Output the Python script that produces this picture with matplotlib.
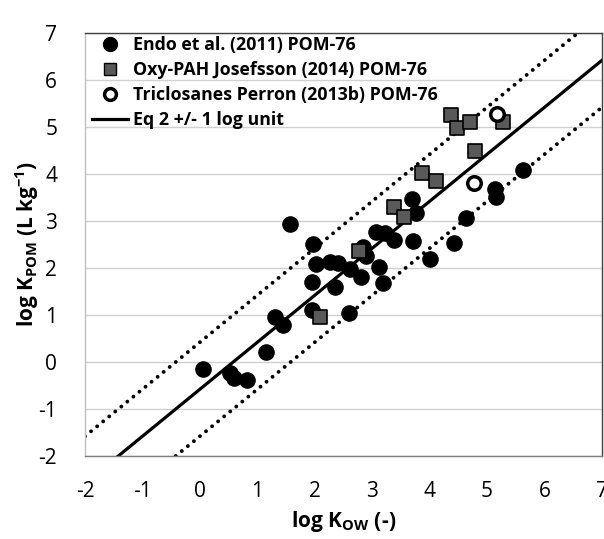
import numpy as np
import matplotlib
matplotlib.use("Agg")
import matplotlib.pyplot as plt
from matplotlib.lines import Line2D

plt.rcParams['font.family'] = ['Open Sans', 'DejaVu Sans']
plt.rcParams['mathtext.fontset'] = 'custom'
plt.rcParams['mathtext.rm'] = 'Open Sans'
plt.rcParams['mathtext.bf'] = 'Open Sans:bold'
plt.rcParams['axes.unicode_minus'] = False

# Endo et al. (2011) POM-76
endo_x = [0.05, 0.53, 0.60, 0.82, 1.15, 1.31, 1.45, 1.95, 1.57, 1.97, 2.02, 2.27,
          2.41, 1.95, 2.36, 2.62, 2.81, 2.84, 2.90, 3.07, 3.23, 3.38, 3.12, 3.19,
          2.60, 3.71, 4.00, 3.77, 3.70, 4.43, 4.64, 5.13, 5.16, 5.63]
endo_y = [-0.15, -0.23, -0.34, -0.38, 0.21, 0.96, 0.79, 1.10, 2.94, 2.51, 2.09, 2.13,
          2.11, 1.70, 1.60, 1.98, 1.81, 2.45, 2.26, 2.77, 2.74, 2.60, 2.02, 1.68,
          1.04, 2.57, 2.19, 3.17, 3.47, 2.53, 3.06, 3.68, 3.51, 4.09]

# Oxy-PAH Josefsson (2014) POM-76
oxy_x = [2.09, 2.77, 3.38, 3.56, 3.87, 4.11, 4.79, 4.38, 4.48, 4.71, 5.28]
oxy_y = [0.96, 2.36, 3.30, 3.09, 4.02, 3.85, 4.49, 5.26, 4.98, 5.10, 5.10]

# Triclosanes Perron (2013b) POM-76
tri_x = [4.78, 5.18]
tri_y = [3.81, 5.28]

# Eq 2 (slope, intercept) and +/- 1 log unit
eq_slope = 1.0
eq_intercept = -0.58
eq_band = 1.0

x_ticks = [-2, -1, 0, 1, 2, 3, 4, 5, 6, 7]
y_ticks = [-2, -1, 0, 1, 2, 3, 4, 5, 6, 7]

fig = plt.figure(figsize=(6.04, 5.39), dpi=100)
ax = fig.add_axes([85/604, 1-456/539, (602-85)/604, (456-33)/539])

ax.set_xlim(-2, 7)
ax.set_ylim(-2, 7)
ax.set_xticks(x_ticks)
ax.set_yticks(y_ticks)
ax.grid(axis='y', color='#d0d0d0', lw=1.0)
ax.set_axisbelow(True)
ax.tick_params(length=0, labelsize=15)
ax.tick_params(axis='x', pad=18)
ax.tick_params(axis='y', pad=20)

xl = np.array([-2, 7])
ax.plot(xl, eq_slope*xl + eq_intercept, color='black', lw=2.3, zorder=2)
for s in (eq_band, -eq_band):
    ax.plot(xl, eq_slope*xl + eq_intercept + s, color='black', lw=2.8,
            linestyle=(0, (0.01, 2.0)), dash_capstyle='round', zorder=2)

ax.scatter(endo_x, endo_y, s=120, color='black', zorder=3)
ax.scatter(oxy_x, oxy_y, s=105, marker='s', color='#595959', edgecolor='black',
           linewidths=1.2, zorder=4)
ax.scatter(tri_x, tri_y, s=95, facecolor='white', edgecolor='black',
           linewidths=2.5, zorder=5)

for side, c in (('left', '#bfbfbf'), ('bottom', '#7f7f7f'),
                ('top', '#404040'), ('right', '#404040')):
    ax.spines[side].set_color(c)
    ax.spines[side].set_linewidth(1.0)

ax.set_xlabel(r'log K$_{\mathbf{OW}}$ (-)', fontsize=15, fontweight='bold', labelpad=5)
ax.set_ylabel(r'log K$_{\mathbf{POM}}$ (L kg$^{\mathbf{-1}}$)', fontsize=15,
              fontweight='bold', labelpad=-2)

handles = [
    Line2D([], [], marker='o', color='black', linestyle='none', markersize=10),
    Line2D([], [], marker='s', color='#595959', markeredgecolor='black',
           linestyle='none', markersize=9),
    Line2D([], [], marker='o', markerfacecolor='white', markeredgecolor='black',
           markeredgewidth=2.5, linestyle='none', markersize=8.5),
    Line2D([], [], color='black', lw=2.3),
]
labels = ['Endo et al. (2011) POM-76', 'Oxy-PAH Josefsson (2014) POM-76',
          'Triclosanes Perron (2013b) POM-76', 'Eq 2 +/- 1 log unit']
leg = ax.legend(handles, labels, loc='upper left', frameon=False,
                prop={'weight': 'bold', 'size': 12.8}, handlelength=2.0,
                handletextpad=0.3, labelspacing=0.4, borderaxespad=0.0,
                bbox_to_anchor=(0.0, 1.01))

fig.savefig('out.png', dpi=100)
